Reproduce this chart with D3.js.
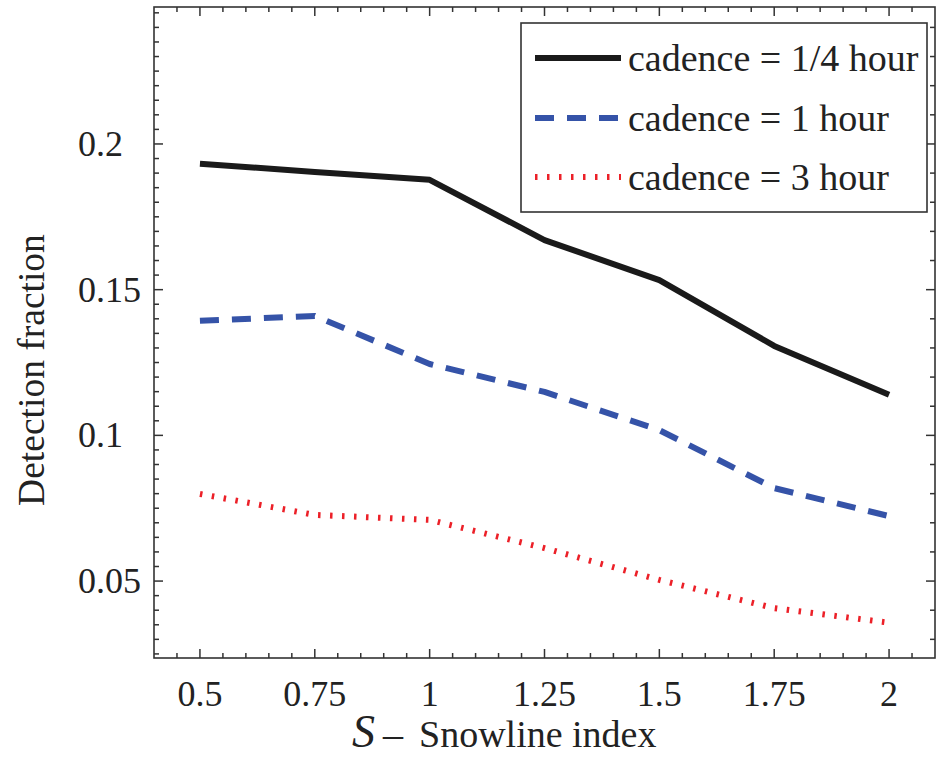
<!DOCTYPE html>
<html>
<head>
<meta charset="utf-8">
<script src="https://cdnjs.cloudflare.com/ajax/libs/d3/7.8.5/d3.min.js"></script>
<style>
  body { margin: 0; background: #fff; }
  text { font-family: "Liberation Serif", "DejaVu Serif", serif; fill: #222; }
</style>
</head>
<body>
<div class="chart"></div>
<script>
// data
var snowline = [0.5, 0.75, 1, 1.25, 1.5, 1.75, 2];
var cadenceQuarter = [0.1932, 0.1904, 0.1877, 0.1670, 0.1533, 0.1307, 0.1139];
var cadenceOne = [0.1393, 0.1410, 0.1245, 0.1149, 0.1018, 0.0819, 0.0723];
var cadenceThree = [0.0799, 0.0727, 0.0710, 0.0613, 0.0504, 0.0407, 0.0357];
var xTickLabels = ["0.5", "0.75", "1", "1.25", "1.5", "1.75", "2"];
var yTickValues = [0.05, 0.1, 0.15, 0.2];
var yTickLabels = ["0.05", "0.1", "0.15", "0.2"];
var seriesNames = ["cadence = 1/4 hour", "cadence = 1 hour", "cadence = 3 hour"];

var svgWidth = 940;
var svgHeight = 757;

var svg = d3.select(".chart")
    .append("svg")
    .attr("width", svgWidth)
    .attr("height", svgHeight);

// plot frame
var frame = {left: 154, right: 935, top: 7, bottom: 658};

var xScale = d3.scaleLinear()
    .domain([0.4, 2.1])
    .range([frame.left, frame.right]);

var yScale = d3.scaleLinear()
    .domain([0.0236, 0.247])
    .range([frame.bottom, frame.top]);

var tickColor = "#333";

// x ticks (bottom + top), minor every 0.05
var xMinor = d3.range(9, 42).map(d => d * 0.05);
xMinor.forEach(function(v) {
    var isMajor = Math.abs(v * 4 - Math.round(v * 4)) < 1e-6;
    var len = isMajor ? 9 : 5;
    svg.append("line")
        .attr("x1", xScale(v)).attr("x2", xScale(v))
        .attr("y1", frame.bottom).attr("y2", frame.bottom - len)
        .attr("stroke", tickColor).attr("stroke-width", 1.5);
    svg.append("line")
        .attr("x1", xScale(v)).attr("x2", xScale(v))
        .attr("y1", frame.top).attr("y2", frame.top + len)
        .attr("stroke", tickColor).attr("stroke-width", 1.5);
});

// y ticks left every 0.005, right every 0.01
var yLeft = d3.range(5, 50).map(d => d * 0.005);
yLeft.forEach(function(v) {
    if (yScale(v) > frame.bottom || yScale(v) < frame.top) return;
    var isMajor = Math.abs(v * 20 - Math.round(v * 20)) < 1e-6;
    svg.append("line")
        .attr("x1", frame.left).attr("x2", frame.left + (isMajor ? 9 : 5))
        .attr("y1", yScale(v)).attr("y2", yScale(v))
        .attr("stroke", tickColor).attr("stroke-width", 1.5);
});
var yRight = d3.range(3, 25).map(d => d * 0.01);
yRight.forEach(function(v) {
    if (yScale(v) > frame.bottom || yScale(v) < frame.top) return;
    var isMajor = Math.abs(v * 20 - Math.round(v * 20)) < 1e-6;
    svg.append("line")
        .attr("x1", frame.right).attr("x2", frame.right - (isMajor ? 9 : 5))
        .attr("y1", yScale(v)).attr("y2", yScale(v))
        .attr("stroke", tickColor).attr("stroke-width", 1.5);
});

// frame box
svg.append("rect")
    .attr("x", frame.left).attr("y", frame.top)
    .attr("width", frame.right - frame.left)
    .attr("height", frame.bottom - frame.top)
    .attr("fill", "none")
    .attr("stroke", "#333")
    .attr("stroke-width", 1.6);

// tick labels
svg.selectAll(".xlabel")
    .data(snowline)
    .enter()
    .append("text")
    .attr("class", "xlabel")
    .attr("x", d => xScale(d))
    .attr("y", 706)
    .attr("text-anchor", "middle")
    .attr("font-size", 36)
    .text((d, i) => xTickLabels[i]);

svg.selectAll(".ylabel")
    .data(yTickValues)
    .enter()
    .append("text")
    .attr("class", "ylabel")
    .attr("x", 78)
    .attr("y", d => yScale(d) + 12)
    .attr("text-anchor", "start")
    .attr("font-size", 36)
    .text((d, i) => yTickLabels[i]);

// axis titles
svg.append("text")
    .attr("transform", "translate(44, 370) rotate(-90)")
    .attr("text-anchor", "middle")
    .attr("font-size", 37.5)
    .text("Detection fraction");

var xTitle = svg.append("text")
    .attr("x", 352)
    .attr("y", 747)
    .attr("font-size", 38);
xTitle.append("tspan")
    .attr("font-style", "italic")
    .attr("font-size", 46)
    .text("S");
xTitle.append("tspan")
    .attr("dx", 8)
    .attr("font-size", 40)
    .text("–");
xTitle.append("tspan")
    .attr("dx", 16)
    .text("Snowline index");

// lines
var lineGen = d3.line()
    .x((d, i) => xScale(snowline[i]))
    .y(d => yScale(d));

var series = [
    {values: cadenceQuarter, color: "#1a1a1a", width: 6, dash: null},
    {values: cadenceOne, color: "#3553a8", width: 6, dash: "19,13"},
    {values: cadenceThree, color: "#ec2028", width: 6, dash: "2.5,9.5"}
];

series.forEach(function(s) {
    svg.append("path")
        .datum(s.values)
        .attr("d", lineGen)
        .attr("fill", "none")
        .attr("stroke", s.color)
        .attr("stroke-width", s.width)
        .attr("stroke-dasharray", s.dash)
        .attr("stroke-linejoin", "round");
});

// legend
var legend = svg.append("g");
legend.append("rect")
    .attr("x", 521).attr("y", 23)
    .attr("width", 406).attr("height", 189)
    .attr("fill", "#fff")
    .attr("stroke", "#333")
    .attr("stroke-width", 1.6);

var legendRows = [58, 118, 177];
series.forEach(function(s, i) {
    legend.append("line")
        .attr("x1", 535).attr("x2", 621)
        .attr("y1", legendRows[i]).attr("y2", legendRows[i])
        .attr("stroke", s.color)
        .attr("stroke-width", s.width)
        .attr("stroke-dasharray", s.dash);
    legend.append("text")
        .attr("x", 628)
        .attr("y", legendRows[i] + 13)
        .attr("font-size", 38)
        .text(seriesNames[i]);
});
</script>
</body>
</html>
